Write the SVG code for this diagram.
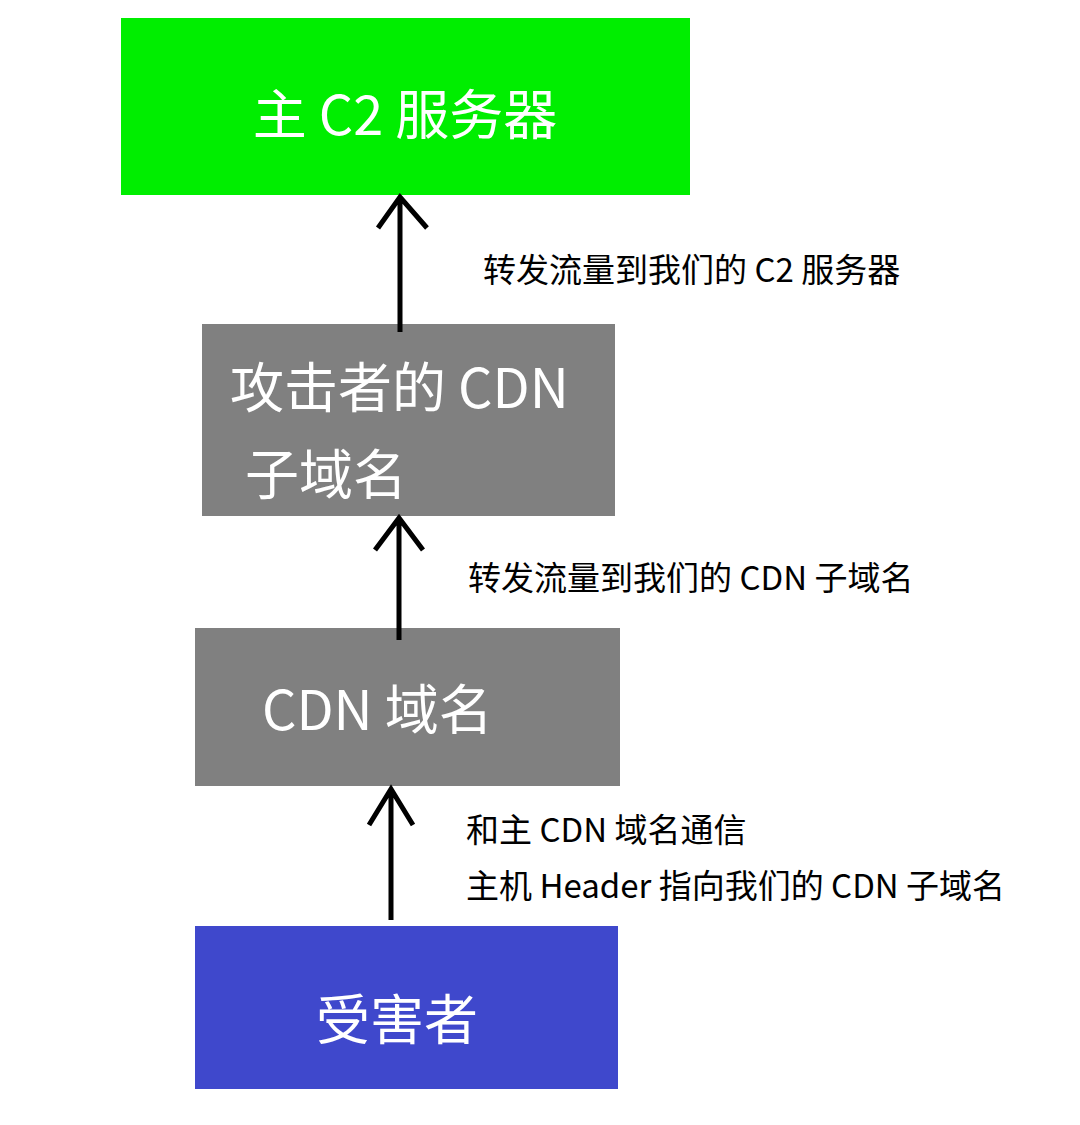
<svg xmlns="http://www.w3.org/2000/svg" width="1080" height="1125" viewBox="0 0 1080 1125">
<style>
.big{font-family:"Noto Sans CJK SC","Liberation Sans",sans-serif;font-size:54px;fill:#fff}
.lbl{font-family:"Noto Sans CJK SC","Liberation Sans",sans-serif;font-size:33px;fill:#000}
.ar{stroke:#000;stroke-width:5;fill:none}
</style>
<rect width="1080" height="1125" fill="#fff"/>
<g id="c2"><rect x="121" y="18" width="569" height="177" fill="#00ee00"/><text class="big" x="405" y="135" text-anchor="middle">主 C2 服务器</text></g>
<g id="cdnsub"><rect x="202" y="324" width="413" height="192" fill="#808080"/><text class="big" x="230" y="408">攻击者的 CDN</text><text class="big" x="245" y="495">子域名</text></g>
<g id="cdn"><rect x="195" y="628" width="425" height="158" fill="#808080"/><text class="big" x="262" y="730">CDN 域名</text></g>
<g id="victim"><rect x="195" y="926" width="423" height="163" fill="#3f48cc"/><text class="big" x="397" y="1040" text-anchor="middle">受害者</text></g>
<g id="connectors">
<path class="ar" d="M400 332V197M378 228L400 197L427 228"/>
<path class="ar" d="M399 640V518M375 550L399 518L423 550"/>
<path class="ar" d="M391 920V789M369 825L391 789L413 825"/>
<text class="lbl" x="483" y="282">转发流量到我们的 C2 服务器</text>
<text class="lbl" x="468" y="590">转发流量到我们的 CDN 子域名</text>
<text class="lbl" x="466" y="842">和主 CDN 域名通信</text>
<text class="lbl" x="466" y="898">主机 Header 指向我们的 CDN 子域名</text>
</g>
</svg>
